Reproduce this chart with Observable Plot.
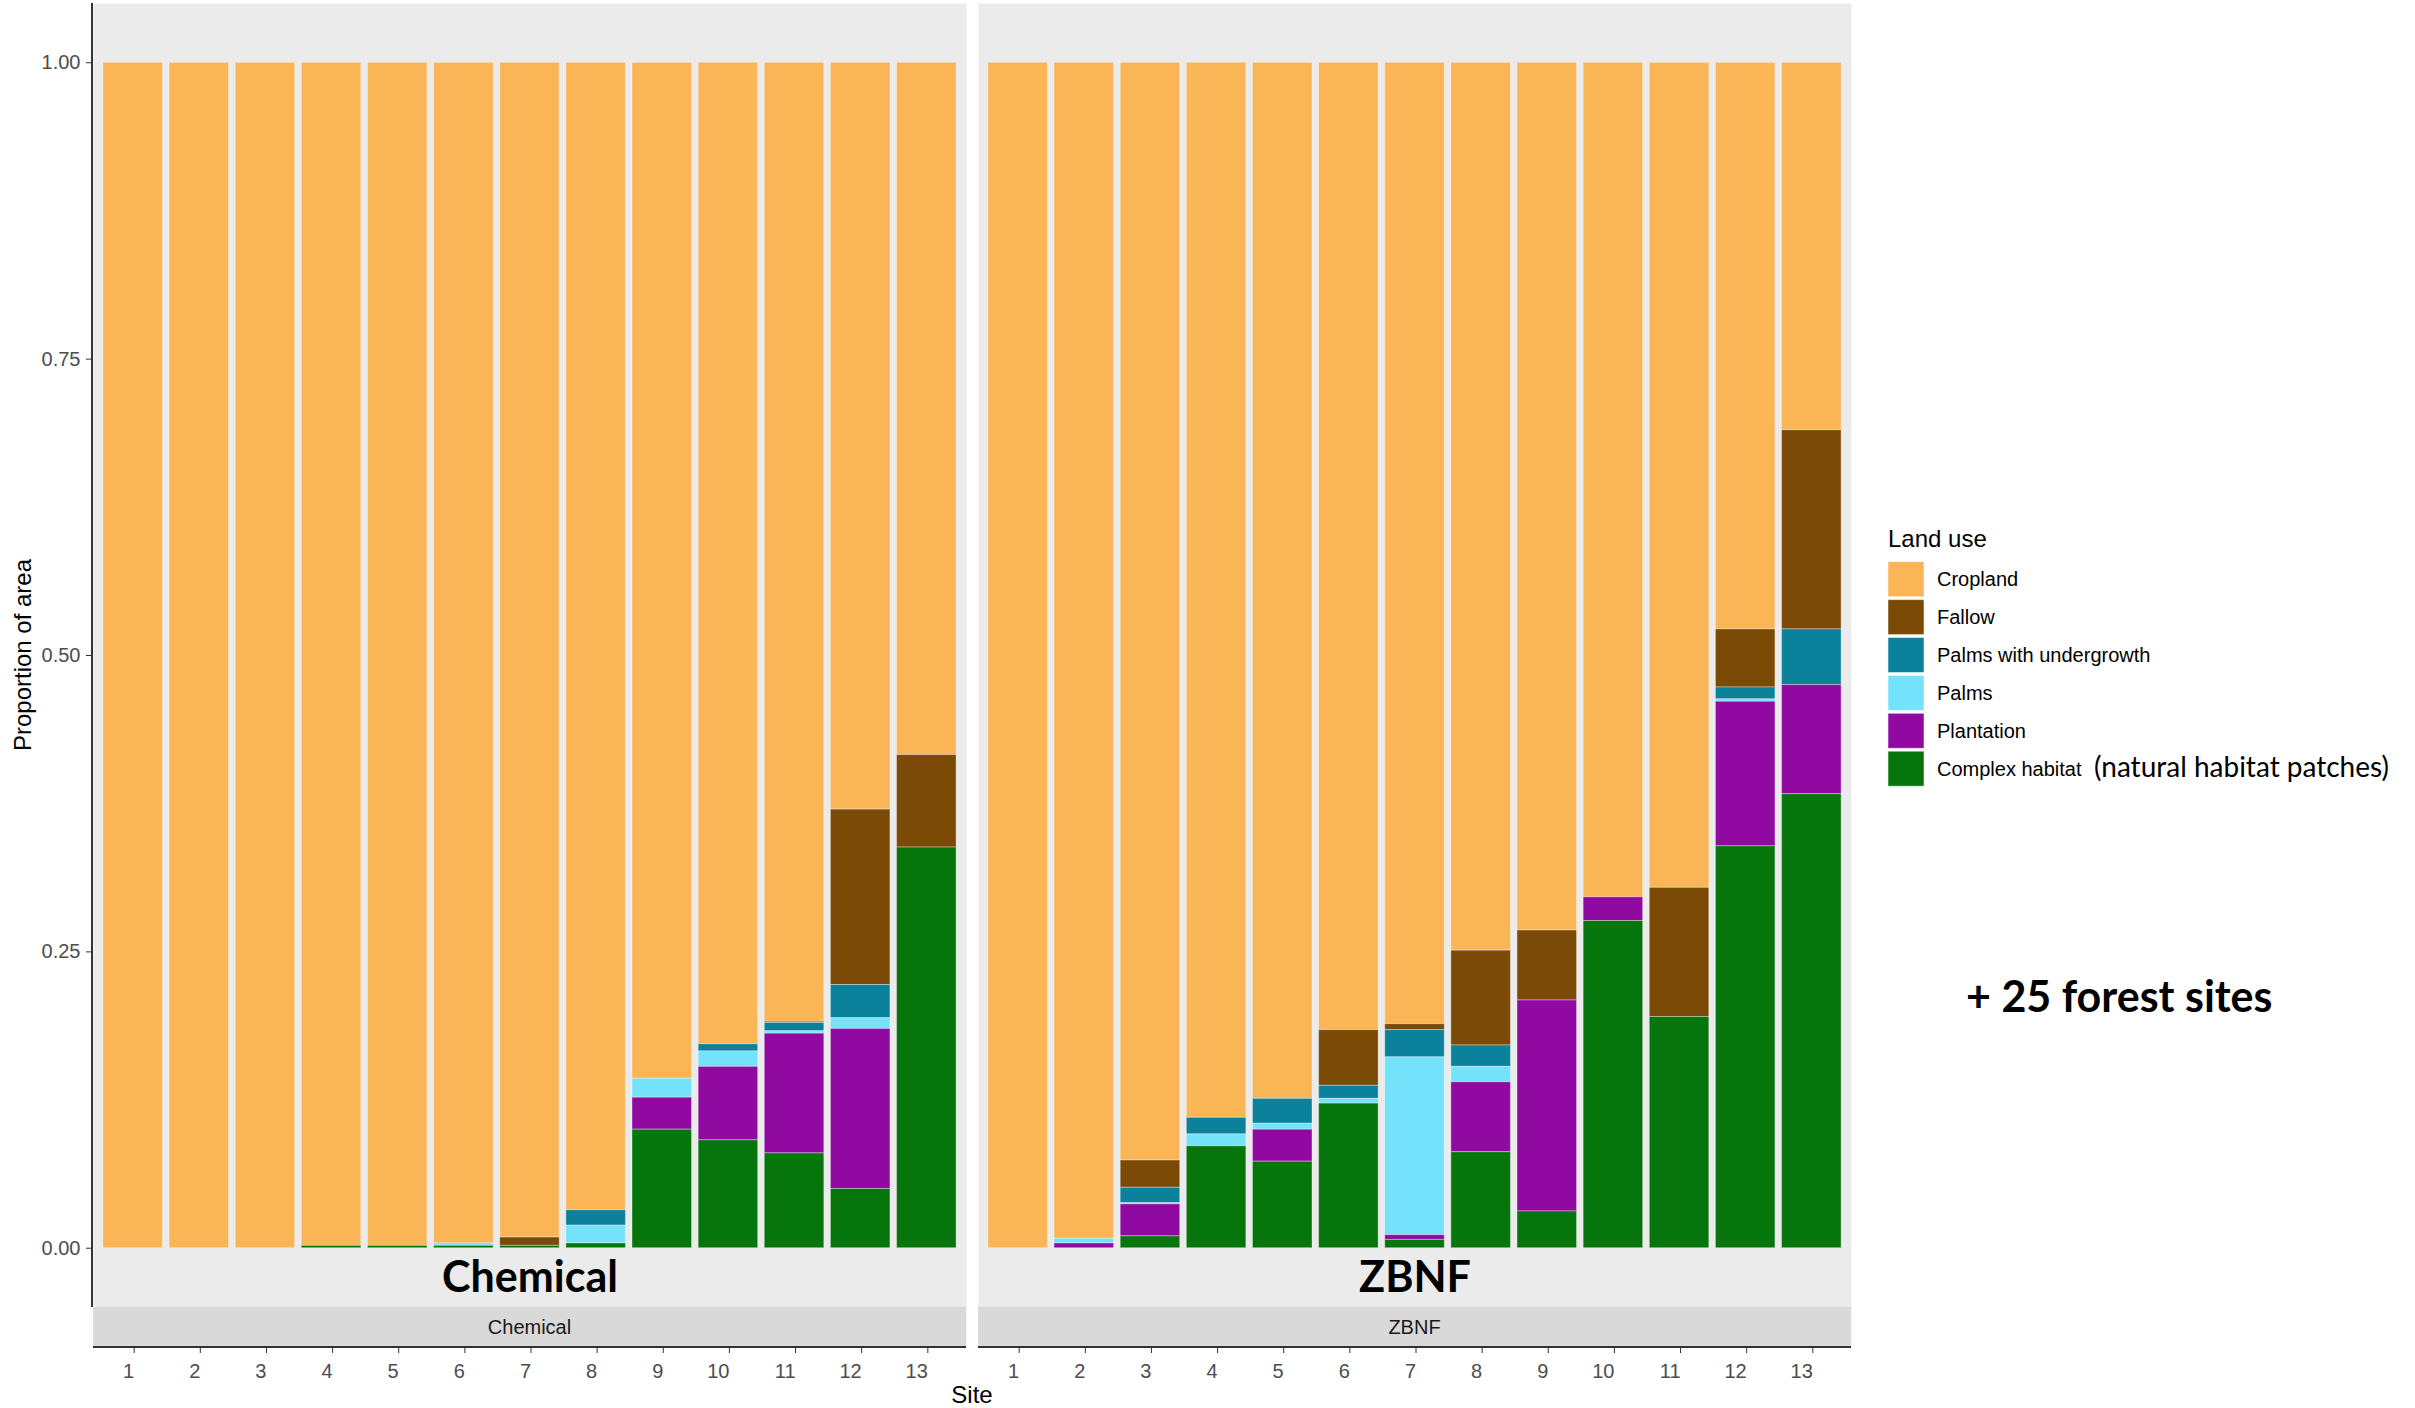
<!DOCTYPE html>
<html><head><meta charset="utf-8">
<script src="https://cdn.jsdelivr.net/npm/d3@7"></script>
<script src="https://cdn.jsdelivr.net/npm/@observablehq/plot@0.6"></script>
<style>
html,body{margin:0;padding:0;background:#fff;}
#chart{position:relative;width:2415px;height:1408px;}
</style></head><body><div id="chart"></div>
<script>
// ---------- data ----------
const systems = ["Chemical", "ZBNF"];
const sites = [1, 2, 3, 4, 5, 6, 7, 8, 9, 10, 11, 12, 13];
const landUses = ["Cropland", "Fallow", "Palms with undergrowth", "Palms", "Plantation", "Complex habitat"];
const landUseColors = ["#F9B556", "#7B4A06", "#0C819C", "#75E2FB", "#900AA2", "#06760C"];
const stackOrder = ["Complex habitat", "Plantation", "Palms", "Palms with undergrowth", "Fallow", "Cropland"];
const yTicks = [0, 0.25, 0.5, 0.75, 1];

// Chemical sites 1..13
const chemCropland  = [1.000, 1.000, 1.000, 0.998, 0.998, 0.996, 0.991, 0.968, 0.857, 0.828, 0.809, 0.630, 0.584];
const chemFallow    = [0, 0, 0, 0, 0, 0, 0.007, 0, 0, 0, 0.001, 0.148, 0.078];
const chemPalmsUG   = [0, 0, 0, 0, 0, 0, 0, 0.013, 0, 0.006, 0.007, 0.028, 0];
const chemPalms     = [0, 0, 0, 0, 0, 0.002, 0, 0.015, 0.016, 0.013, 0.002, 0.009, 0];
const chemPlant     = [0, 0, 0, 0, 0, 0, 0, 0, 0.027, 0.062, 0.101, 0.135, 0];
const chemComplex   = [0, 0, 0, 0.002, 0.002, 0.002, 0.002, 0.004, 0.100, 0.091, 0.080, 0.050, 0.338];

// ZBNF sites 1..13
const zbnfCropland  = [1.000, 0.992, 0.926, 0.890, 0.874, 0.816, 0.811, 0.749, 0.732, 0.704, 0.696, 0.478, 0.310];
const zbnfFallow    = [0, 0, 0.023, 0, 0, 0.047, 0.005, 0.080, 0.059, 0, 0.109, 0.049, 0.168];
const zbnfPalmsUG   = [0, 0, 0.013, 0.014, 0.021, 0.011, 0.023, 0.018, 0, 0, 0, 0.010, 0.047];
const zbnfPalms     = [0, 0.004, 0.001, 0.010, 0.005, 0.004, 0.150, 0.013, 0, 0, 0, 0.002, 0];
const zbnfPlant     = [0, 0.004, 0.027, 0, 0.027, 0, 0.004, 0.059, 0.178, 0.020, 0, 0.122, 0.092];
const zbnfComplex   = [0, 0, 0.010, 0.086, 0.073, 0.122, 0.007, 0.081, 0.031, 0.276, 0.195, 0.339, 0.383];

const seriesBySystem = {
  Chemical: {"Cropland": chemCropland, "Fallow": chemFallow, "Palms with undergrowth": chemPalmsUG,
             "Palms": chemPalms, "Plantation": chemPlant, "Complex habitat": chemComplex},
  ZBNF:     {"Cropland": zbnfCropland, "Fallow": zbnfFallow, "Palms with undergrowth": zbnfPalmsUG,
             "Palms": zbnfPalms, "Plantation": zbnfPlant, "Complex habitat": zbnfComplex}
};
const data = [];
for (const s of systems) for (const lu of landUses)
  seriesBySystem[s][lu].forEach((v, i) => data.push({system: s, site: sites[i], landuse: lu, value: v}));

// ---------- layout ----------
const W = 2415, H = 1408;
const mL = 93, mR = W - 1851, mT = 3, mB = 61;
const panelBottom = 1307;
const stripH = 39;
const facetGap = 12;
const fxStep = (W - mL - mR + facetGap) / 2;
const calibriLike = "Lato, 'Open Sans', sans-serif";

const chart = Plot.plot({
  width: W, height: H,
  marginLeft: mL, marginRight: mR, marginTop: mT, marginBottom: mB,
  style: {fontFamily: "'Liberation Sans', Arial, sans-serif", background: "#fff", overflow: "visible"},
  fx: {domain: systems, paddingInner: facetGap / fxStep, paddingOuter: 0, axis: null},
  x: {domain: sites, paddingInner: 0.1, paddingOuter: 0.15, round: false},
  y: {domain: [-0.05, 1.05], range: [panelBottom, mT]},
  color: {domain: landUses, range: landUseColors},
  marks: [
    Plot.frame({fill: "#EBEBEB", stroke: "none"}),
    Plot.barY(data, Plot.stackY({
      fx: "system", x: "site", y: "value", fill: "landuse", order: stackOrder,
      stroke: "#ffffff", strokeOpacity: 0.35, strokeWidth: 1
    })),
    Plot.axisY(yTicks, {tickSize: 7, tickPadding: 6, tickFormat: d3.format(".2f"), fontSize: 20,
      stroke: "#333", fill: "#4D4D4D", label: null}),
    Plot.axisX({tickSize: 6, tickPadding: 10, fontSize: 20, textAnchor: "end", dx: 1,
      stroke: "#333", fill: "#4D4D4D", label: null}),
    Plot.text(systems, {fx: d => d, text: d => d, frameAnchor: "bottom", lineAnchor: "bottom", dy: -56,
      fontSize: 43, fontWeight: 700, fontFamily: calibriLike, fill: "#000"})
  ]
});

document.getElementById("chart").appendChild(chart);

// ---------- ggplot-like decorations derived from Plot's scales ----------
const svg = d3.select(chart);
const fx = chart.scale("fx");
const bw = fx.bandwidth;
const deco = svg.append("g");
systems.forEach(s => {
  const x0 = fx.apply(s);
  deco.append("rect").attr("x", x0).attr("y", panelBottom).attr("width", bw).attr("height", stripH)
    .attr("fill", "#D9D9D9");
  deco.append("text").attr("x", x0 + bw / 2).attr("y", panelBottom + stripH / 2 + 7)
    .attr("text-anchor", "middle").attr("font-size", 20).attr("fill", "#1A1A1A").text(s);
  deco.append("line").attr("x1", x0).attr("x2", x0 + bw)
    .attr("y1", panelBottom + stripH + 1).attr("y2", panelBottom + stripH + 1)
    .attr("stroke", "#333").attr("stroke-width", 2);
});
// left axis line
deco.append("line").attr("x1", mL - 1).attr("x2", mL - 1).attr("y1", mT).attr("y2", panelBottom)
  .attr("stroke", "#333").attr("stroke-width", 2);
// axis titles
deco.append("text").attr("transform", `translate(31,${(mT + panelBottom) / 2}) rotate(-90)`)
  .attr("text-anchor", "middle").attr("font-size", 24).attr("fill", "#000").text("Proportion of area");
deco.append("text").attr("x", (mL + W - mR) / 2).attr("y", 1403)
  .attr("text-anchor", "middle").attr("font-size", 24).attr("fill", "#000").text("Site");

// legend
const color = chart.scale("color");
const keyTop = 561.7, keyPitch = 37.9, keyW = 36, keyH = 35;
const lg = svg.append("g").attr("transform", "translate(1888,0)").attr("text-anchor", "start");
lg.append("text").attr("x", 0).attr("y", 547).attr("text-anchor", "start")
  .attr("font-size", 24).attr("fill", "#000").text("Land use");
color.domain.forEach((lu, i) => {
  const y0 = keyTop + i * keyPitch;
  lg.append("rect").attr("x", 0).attr("y", y0).attr("width", keyW).attr("height", keyH)
    .attr("fill", color.apply(lu)).attr("stroke", "#fff").attr("stroke-opacity", 0.5);
  lg.append("text").attr("x", 49).attr("y", y0 + keyH / 2 + 7).attr("text-anchor", "start")
    .attr("font-size", 20).attr("fill", "#000").text(lu);
});
lg.append("text").attr("x", 206).attr("y", keyTop + 5 * keyPitch + keyH / 2 + 8.5).attr("text-anchor", "start")
  .attr("font-size", 28).attr("font-family", calibriLike).attr("fill", "#000")
  .text("(natural habitat patches)");

// annotation
svg.append("text").attr("x", 1966).attr("y", 1012).attr("text-anchor", "start")
  .attr("font-size", 43).attr("font-weight", 700)
  .attr("font-family", calibriLike).attr("fill", "#000").text("+ 25 forest sites");
</script>
</body></html>
